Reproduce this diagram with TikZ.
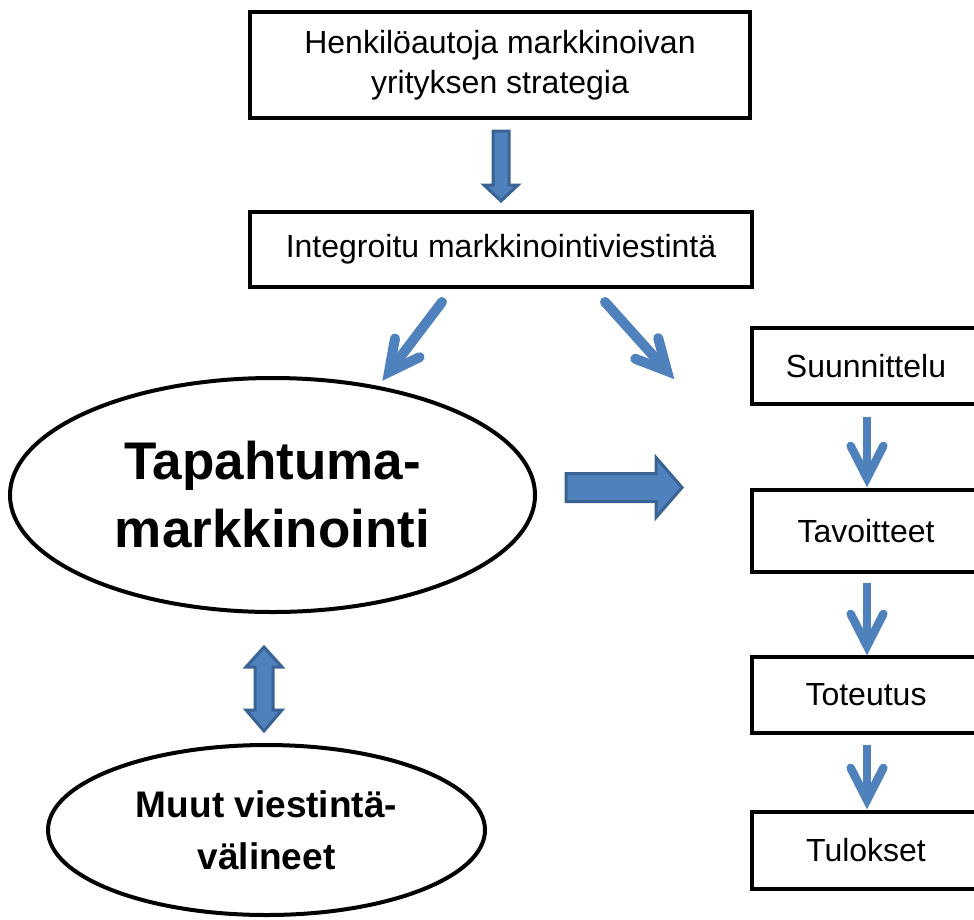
\documentclass[tikz,border=0pt]{standalone}
\usepackage{fontspec}
\setmainfont{Liberation Sans}
\usetikzlibrary{shapes.geometric,calc}
\definecolor{arrowblue}{HTML}{4F81BD}
\definecolor{arrowdark}{HTML}{3A6394}
\tikzset{
  box/.style={draw=black, line width=4.5pt, fill=white, inner sep=0pt, align=center,
    font=\fontsize{32}{40}\selectfont},
  oval/.style={ellipse, draw=black, line width=4pt, fill=white, inner sep=0pt, align=center,
    font=\bfseries},
  blockarrow/.style={fill=arrowblue, draw=arrowdark, line width=3pt, line join=miter},
  chevshaft/.style={draw=arrowblue, line cap=round},
  chevhead/.style={draw=arrowblue, line cap=round, line join=miter},
}
\begin{document}
\begin{tikzpicture}[x=1pt,y=-1pt]
\useasboundingbox (0,0) rectangle (974,919);
\clip (0,0) rectangle (974,919);

% boxes
\node[box, minimum width=500pt, minimum height=106pt] (strat) at (500,65)
  {Henkilöautoja markkinoivan\\yrityksen strategia};
\node[box, minimum width=502pt, minimum height=75pt] (imv) at (501,249.5)
  {Integroitu markkinointiviestintä};

\node[box, minimum width=228pt, minimum height=76pt] (suun) at (866,366) {Suunnittelu};
\node[box, minimum width=228pt, minimum height=82pt] (tav) at (866,531) {Tavoitteet};
\node[box, minimum width=228pt, minimum height=76pt] (tot) at (866,695) {Toteutus};
\node[box, minimum width=228pt, minimum height=77pt] (tul) at (866,850.5) {Tulokset};

% ellipses
\node[oval, minimum width=525pt, minimum height=234pt,
  font=\bfseries\fontsize{53}{68}\selectfont] (tap) at (272.5,495)
  {Tapahtuma-\\markkinointi};
\node[oval, minimum width=437pt, minimum height=170pt,
  font=\bfseries\fontsize{37}{52}\selectfont] (muut) at (266.5,830)
  {Muut viestintä-\\välineet};

% block arrow strategy -> imv
\coordinate (ds) at (501,131);
\coordinate (dt) at (501,201);
\draw[blockarrow] ($(ds)+(-8,0)$) -- ($(ds)+(8,0)$) -- ($(dt)+(8,-16)$) -- ($(dt)+(17,-16)$)
  -- (dt) -- ($(dt)+(-17,-16)$) -- ($(dt)+(-8,-16)$) -- cycle;

% big right block arrow
\coordinate (rs) at (566,487.5);
\coordinate (rt) at (682,487.5);
\draw[blockarrow] ($(rs)+(0,-14)$) -- ($(rt)+(-26,-14)$) -- ($(rt)+(-26,-30)$) -- (rt)
  -- ($(rt)+(-26,30)$) -- ($(rt)+(-26,14)$) -- ($(rs)+(0,14)$) -- cycle;

% double block arrow
\coordinate (ut) at (264,647);
\coordinate (lt) at (264,731);
\draw[blockarrow] (ut) -- ($(ut)+(18,20)$) -- ($(ut)+(9,20)$) -- ($(lt)+(9,-21)$)
  -- ($(lt)+(18,-21)$) -- (lt) -- ($(lt)+(-18,-21)$) -- ($(lt)+(-9,-21)$)
  -- ($(ut)+(-9,20)$) -- ($(ut)+(-18,20)$) -- cycle;

% diagonal chevron arrows
\coordinate (l1s) at (442,302);
\coordinate (l1t) at (389,372);
\coordinate (r1s) at (605,302);
\coordinate (r1t) at (667,371);
\foreach \s/\t in {l1s/l1t, r1s/r1t}{
  \draw[chevshaft, line width=10pt] (\s) -- ($(\t)!6pt!(\s)$);
  \draw[chevhead, line width=10pt] ($(\t)!34pt!27:(\s)$) -- (\t) -- ($(\t)!34pt!-27:(\s)$);
}

% small down chevron arrows
\coordinate (a1s) at (867,417);
\coordinate (a1t) at (867,478);
\coordinate (a2s) at (867,583);
\coordinate (a2t) at (867,646);
\coordinate (a3s) at (867,745);
\coordinate (a3t) at (867,800);
\foreach \s/\t in {a1s/a1t, a2s/a2t, a3s/a3t}{
  \draw[chevshaft, line width=8.5pt, line cap=butt] (\s) -- ($(\t)!6pt!(\s)$);
  \draw[chevhead, line width=8.5pt] ($(\t)!36pt!27:(\s)$) -- (\t) -- ($(\t)!36pt!-27:(\s)$);
}
\end{tikzpicture}
\end{document}
